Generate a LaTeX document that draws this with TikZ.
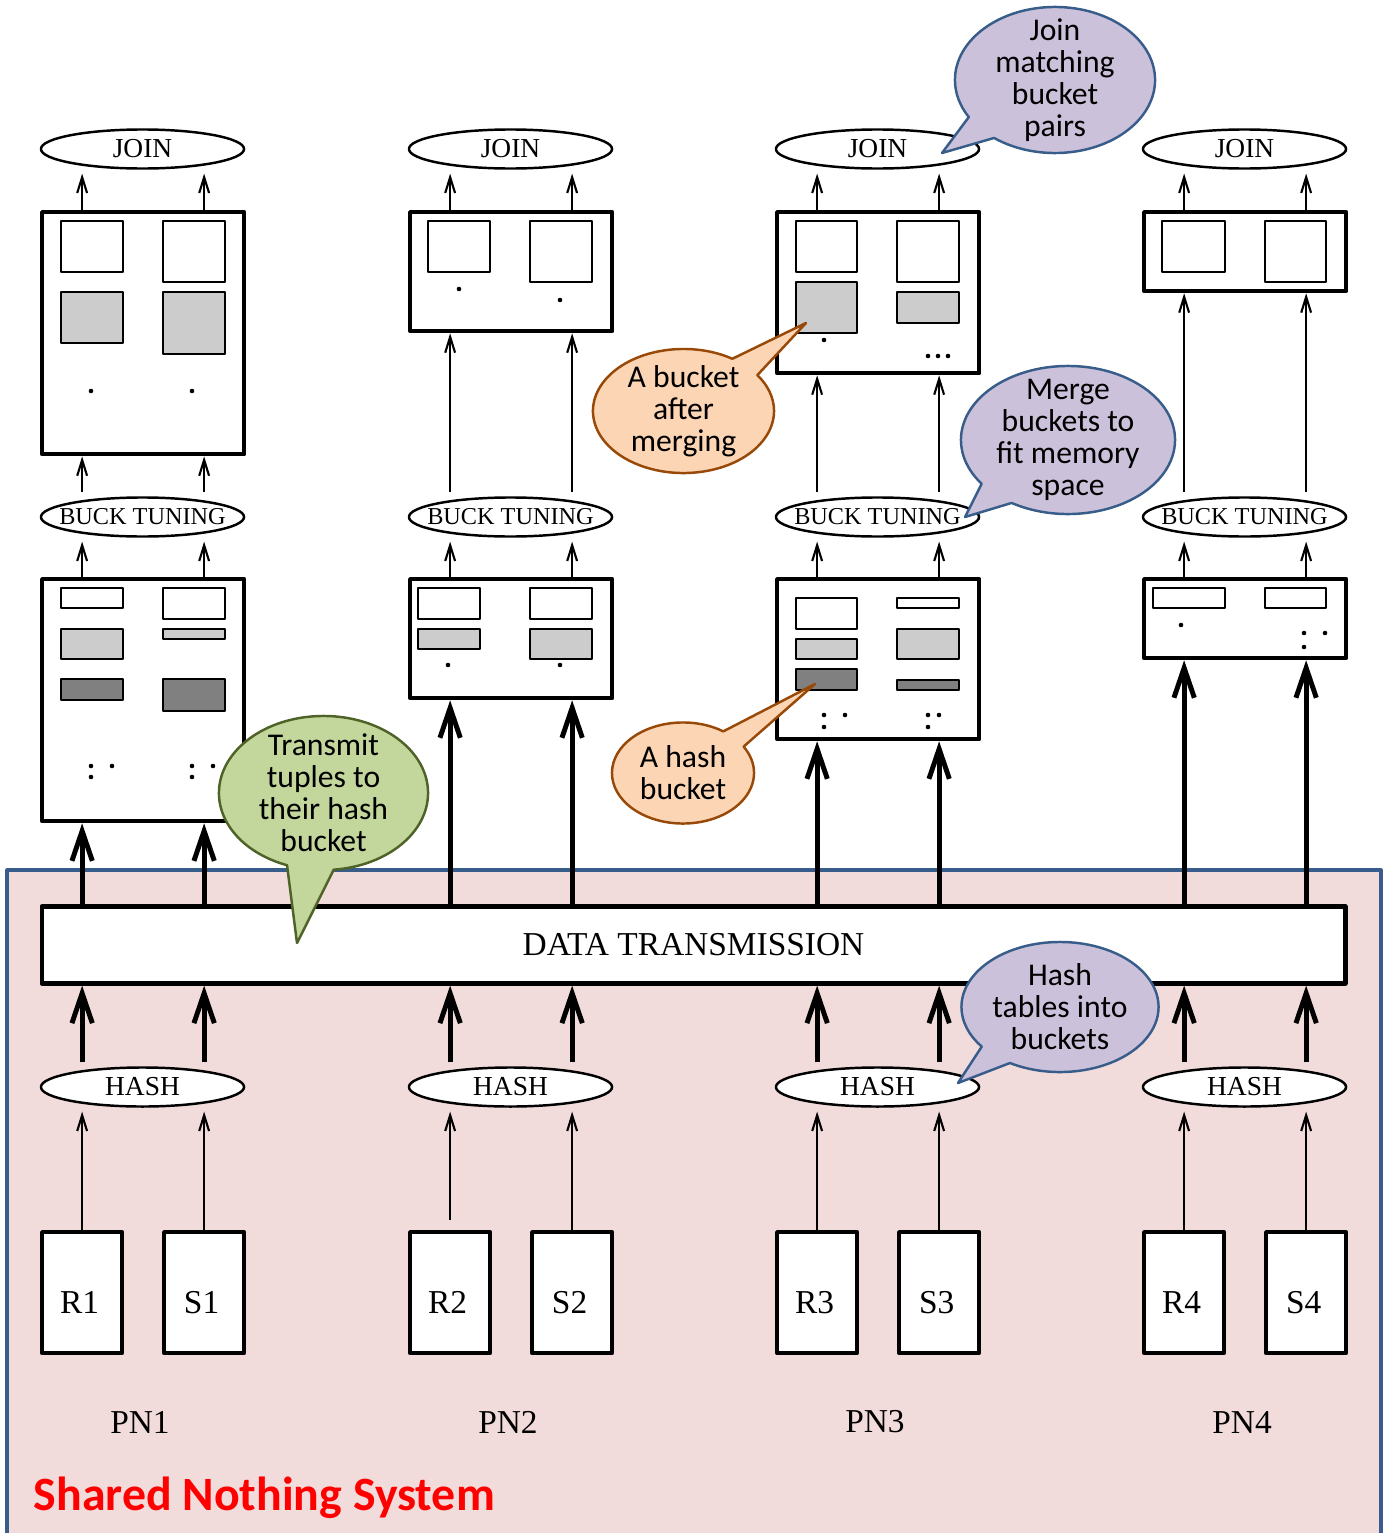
\documentclass[tikz,border=0pt]{standalone}
\usepackage{fontspec}
\setmainfont{Liberation Serif}
\newfontfamily\calloutfont{Carlito}
\usetikzlibrary{shapes.geometric,shapes.callouts,arrows.meta}

\definecolor{pinkbg}{HTML}{F2DCDB}
\definecolor{frameblue}{HTML}{385D8A}
\definecolor{lavender}{HTML}{CCC1DA}
\definecolor{peach}{HTML}{FCD5B5}
\definecolor{peachline}{HTML}{984807}
\definecolor{olivefill}{HTML}{C3D69B}
\definecolor{oliveline}{HTML}{4F6228}
\definecolor{bucketlight}{HTML}{CCCCCC}
\definecolor{bucketdark}{HTML}{808080}

\begin{document}
\begin{tikzpicture}[x=0.01cm, y=-0.01cm, line join=round,
  opbox/.style={draw, line width=1.2pt, fill=white, rectangle, minimum width=2.02cm,
    anchor=north west, inner sep=0pt},
  relbox/.style={draw, line width=1.2pt, fill=white, rectangle, minimum width=0.80cm,
    minimum height=1.21cm, anchor=north west, inner sep=0pt},
  reltext/.style={font=\fontsize{9.5}{10}\selectfont, inner sep=0pt, yshift=-0.095cm, xshift=-0.025cm},
  oper/.style={draw, line width=0.7pt, fill=white, ellipse, minimum width=2.03cm,
    minimum height=0.39cm, inner sep=0pt, font=\fontsize{7.8}{8}\selectfont},
  tuneoper/.style={oper, font=\fontsize{6.9}{7}\selectfont},
  pnlabel/.style={font=\fontsize{9.5}{10}\selectfont, inner sep=0pt},
  bw/.style={draw, line width=0.6pt, fill=white},
  bl/.style={draw, line width=0.6pt, fill=bucketlight},
  bd/.style={draw, line width=0.6pt, fill=bucketdark},
  thinarrow/.style={line width=0.6pt, -{Straight Barb[length=4.5pt,width=2.8pt]}},
  thickarrow/.style={line width=1.4pt, -{Straight Barb[length=8.5pt,width=5.8pt]}},
  callout/.style={ellipse callout, draw, line width=0.7pt, inner sep=0pt},
  ctext/.style={font=\calloutfont\fontsize{9}{9.1}\selectfont, align=center, inner sep=0pt}
]
\useasboundingbox (0,0) rectangle (1383,1533);

% shared-nothing region
\draw[frameblue, line width=0.9pt, fill=pinkbg] (7,870) rectangle (1381,1570);
\node[anchor=west, text=red, inner sep=0pt,
  font=\calloutfont\bfseries\fontsize{13.6}{14}\selectfont] (title) at (33,1498) {Shared Nothing System};

% data transmission layer
\node[draw, line width=1.2pt, fill=white, rectangle, minimum width=13.03cm, minimum height=0.77cm,
  inner sep=0pt, font=\fontsize{9.5}{10}\selectfont] (dt) at (693.5,945) {DATA TRANSMISSION};

% processing nodes
\foreach \i/\xo/\ub/\lb in {1/40/456/823, 2/408/333/700, 3/775/375/741, 4/1142/293/660} {
  \pgfmathsetmacro\ubh{(\ub-214)/100}
  \pgfmathsetmacro\lbh{(\lb-581)/100}
  \pgfmathsetmacro\gap{\i==2 ? 0.1 : 0}
  \node[opbox, minimum height=\ubh cm] (ub\i) at (\xo,210) {};
  \node[opbox, minimum height=\lbh cm] (lb\i) at (\xo,577) {};
  \node[oper] (join\i) at (\xo+102.5,149) {JOIN};
  \node[tuneoper] (bt\i) at (\xo+102.5,517) {\makebox[0pt]{BUCK TUNING}};
  \node[oper] (hash\i) at (\xo+102.5,1087) {HASH};
  \node[relbox, label={[reltext]center:R\i}] (r\i) at (\xo,1230) {};
  \node[relbox, label={[reltext]center:S\i}] (s\i) at (\xo+122,1230) {};
  \node[pnlabel] (pn\i) at (\xo+100,1422) {PN\i};
  % flow of R
  \draw[thinarrow, shorten <=\gap cm, shorten >=1.1pt] (r\i.north) -- (hash\i.south -| r\i);
  \draw[thickarrow, shorten <=1.1pt] (hash\i.north -| r\i) -- (dt.south -| r\i);
  \draw[thickarrow] (dt.north -| r\i) -- (lb\i.south -| r\i);
  \draw[thinarrow, shorten >=1.1pt] (lb\i.north -| r\i) -- (bt\i.south -| r\i);
  \draw[thinarrow, shorten <=1.1pt] (bt\i.north -| r\i) -- (ub\i.south -| r\i);
  \draw[thinarrow, shorten >=1.1pt] (ub\i.north -| r\i) -- (join\i.south -| r\i);
  % flow of S
  \draw[thinarrow, shorten >=1.1pt] (s\i.north) -- (hash\i.south -| s\i);
  \draw[thickarrow, shorten <=1.1pt] (hash\i.north -| s\i) -- (dt.south -| s\i);
  \draw[thickarrow] (dt.north -| s\i) -- (lb\i.south -| s\i);
  \draw[thinarrow, shorten >=1.1pt] (lb\i.north -| s\i) -- (bt\i.south -| s\i);
  \draw[thinarrow, shorten <=1.1pt] (bt\i.north -| s\i) -- (ub\i.south -| s\i);
  \draw[thinarrow, shorten >=1.1pt] (ub\i.north -| s\i) -- (join\i.south -| s\i);
}

% buckets after tuning
\draw[bw] (61,221) rectangle (123,272);   \draw[bw] (163,221) rectangle (225,282);
\draw[bl] (61,292) rectangle (123,343);   \draw[bl] (163,292) rectangle (225,354);
\draw[bw] (428,221) rectangle (490,272);  \draw[bw] (530,221) rectangle (592,282);
\draw[bw] (796,221) rectangle (857,272);  \draw[bw] (897,221) rectangle (959,282);
\draw[bl] (796,282) rectangle (857,333);  \draw[bl] (897,292) rectangle (959,323);
\draw[bw] (1162,221) rectangle (1225,272); \draw[bw] (1265,221) rectangle (1326,282);
\foreach \p in {(91,391),(192,391),(459,289),(560,300),(824,340),(928,356),(938,356),(948,356)}
  \fill \p circle[radius=0.65pt];

% hash buckets
\draw[bw] (61,588) rectangle (123,608);   \draw[bw] (163,588) rectangle (225,619);
\draw[bl] (61,629) rectangle (123,659);   \draw[bl] (163,629) rectangle (225,639);
\draw[bd] (61,679) rectangle (123,700);   \draw[bd] (163,679) rectangle (225,711);
\draw[bw] (418,588) rectangle (480,619);  \draw[bw] (530,588) rectangle (592,619);
\draw[bl] (418,629) rectangle (480,649);  \draw[bl] (530,629) rectangle (592,659);
\draw[bw] (796,598) rectangle (857,629);  \draw[bw] (897,598) rectangle (959,608);
\draw[bl] (796,639) rectangle (857,659);  \draw[bl] (897,629) rectangle (959,659);
\draw[bd] (796,669) rectangle (857,690);  \draw[bd] (897,680) rectangle (959,690);
\draw[bw] (1153,588) rectangle (1225,608); \draw[bw] (1265,588) rectangle (1326,608);
\foreach \p in {(91,766),(112,766),(91,777),(192,766),(213,766),(192,777),
                (448,665),(560,665),
                (824,715),(845,715),(824,727),(928,715),(939,715),(928,727),
                (1181,625),(1304,633),(1325,633),(1304,647)}
  \fill \p circle[radius=0.65pt];

% callouts
\node[callout, fill=lavender, draw=frameblue, minimum width=2.00cm, minimum height=1.46cm,
  callout pointer arc=22, callout absolute pointer={(942,153)},
  label={[ctext]center:{Join\\matching\\bucket\\pairs}}] (cjoin) at (1055,80) {};
\node[callout, fill=peach, draw=peachline, minimum width=1.81cm, minimum height=1.24cm,
  callout pointer arc=22, callout absolute pointer={(806,323)},
  label={[ctext]center:{A bucket\\after\\merging}}] (cmerged) at (683.5,411) {};
\node[callout, fill=lavender, draw=frameblue, minimum width=2.14cm, minimum height=1.48cm,
  callout pointer arc=22, callout absolute pointer={(965,517)},
  label={[ctext]center:{Merge\\buckets to\\fit memory\\space}}] (cmerge) at (1068,440) {};
\node[callout, fill=peach, draw=peachline, minimum width=1.42cm, minimum height=1.01cm,
  callout pointer arc=24, callout absolute pointer={(815,684)},
  label={[ctext]center:{A hash\\bucket}}] (cbucket) at (683,773) {};
\node[callout, fill=olivefill, draw=oliveline, minimum width=2.09cm, minimum height=1.54cm,
  callout pointer arc=26, callout absolute pointer={(297,943)},
  label={[ctext]center:{Transmit\\tuples to\\their hash\\bucket}}] (ctransmit) at (323.5,793) {};
\node[callout, fill=lavender, draw=frameblue, minimum width=1.97cm, minimum height=1.30cm,
  callout pointer arc=22, callout absolute pointer={(958,1083)},
  label={[ctext]center:{Hash\\tables into\\buckets}}] (chash) at (1060,1007) {};
\end{tikzpicture}
\end{document}
